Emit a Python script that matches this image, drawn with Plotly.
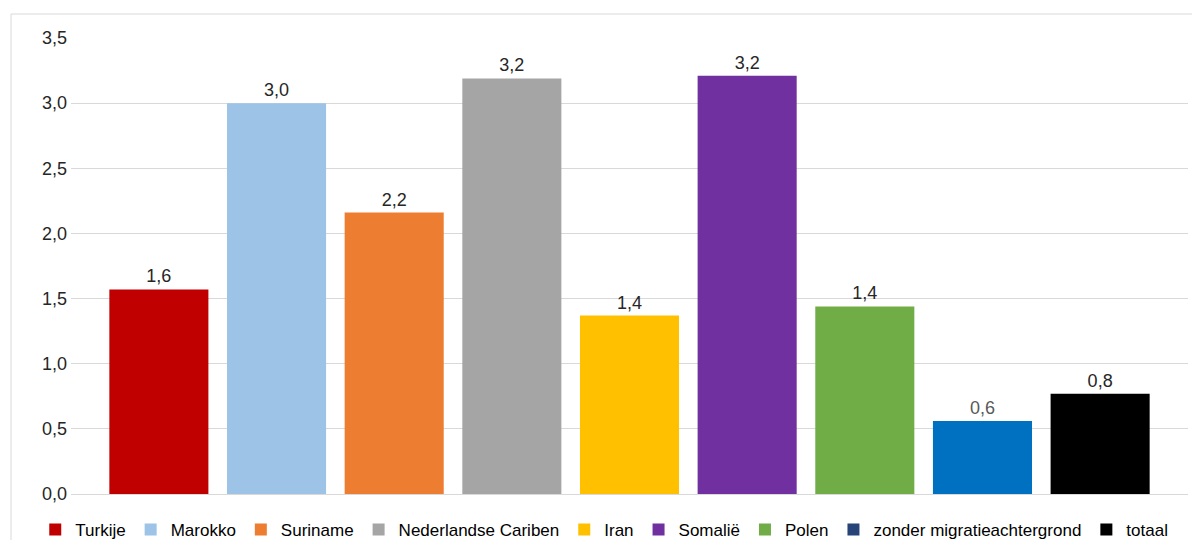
import plotly.graph_objects as go

group_label = ["gemiddelde"]
categories = ["Turkije", "Marokko", "Suriname", "Nederlandse Cariben", "Iran",
              "Somalië", "Polen", "zonder migratieachtergrond", "totaal"]
values = [1.57, 3.00, 2.16, 3.19, 1.37, 3.21, 1.44, 0.56, 0.77]
bar_colors = ["#C00000", "#9DC3E6", "#ED7D31", "#A5A5A5", "#FFC000",
              "#7030A0", "#70AD47", "#0070C0", "#000000"]
legend_colors = ["#C00000", "#9DC3E6", "#ED7D31", "#A5A5A5", "#FFC000",
                 "#7030A0", "#70AD47", "#264478", "#000000"]
label_colors = ["#262626"] * 7 + ["#595959", "#262626"]
y_ticks = [0, 0.5, 1.0, 1.5, 2.0, 2.5, 3.0, 3.5]

FONT = "Liberation Sans, Arial, sans-serif"

fig = go.Figure()
for i, (name, val) in enumerate(zip(categories, values)):
    same = bar_colors[i] == legend_colors[i]
    fig.add_trace(go.Bar(
        x=group_label, y=[val], name=name,
        marker=dict(color=bar_colors[i], line=dict(width=0)),
        texttemplate="%{y:.1f}", textposition="outside",
        textfont=dict(family=FONT, size=18, color=label_colors[i]),
        cliponaxis=False, showlegend=same, legendrank=i + 1,
        hoverinfo="skip",
    ))
    if not same:
        fig.add_trace(go.Bar(
            x=group_label, y=[None], name=name, xaxis="x2",
            marker=dict(color=legend_colors[i], line=dict(width=0)),
            showlegend=True, legendrank=i + 1, hoverinfo="skip",
        ))

# the page body adds an 8px offset, so the figure is sized to the visible area
fig.update_layout(
    width=1192, height=532,
    paper_bgcolor="white", plot_bgcolor="white",
    barmode="group", bargap=0.052, bargroupgap=0.158,
    separators=",.",
    margin=dict(l=63, r=12, t=30, b=46, autoexpand=False),
    font=dict(family=FONT, size=18, color="#262626"),
    xaxis=dict(showticklabels=False, showgrid=False, zeroline=False,
               showline=True, linecolor="#D9D9D9", linewidth=1, ticks=""),
    xaxis2=dict(overlaying="x", visible=False),
    yaxis=dict(range=[0, 3.5], tickvals=y_ticks, tickformat=".1f",
               showgrid=True, gridcolor="#D9D9D9", gridwidth=1,
               zeroline=True, zerolinecolor="#D9D9D9", zerolinewidth=1,
               ticks="", ticklabelstandoff=3,
               tickfont=dict(family=FONT, size=18, color="#262626")),
    legend=dict(orientation="h", xref="paper", yref="paper",
                x=-0.032, xanchor="left", y=-0.079, yanchor="middle",
                font=dict(family=FONT, size=17, color="#000000"),
                bgcolor="rgba(0,0,0,0)", traceorder="normal"),
    shapes=[dict(type="rect", xref="paper", yref="paper",
                 x0=-0.0537, x1=1.03, y0=1.0526, y1=-0.14,
                 line=dict(color="#D9D9D9", width=1), fillcolor="rgba(0,0,0,0)",
                 layer="below")],
)

fig.write_html("out.html")
